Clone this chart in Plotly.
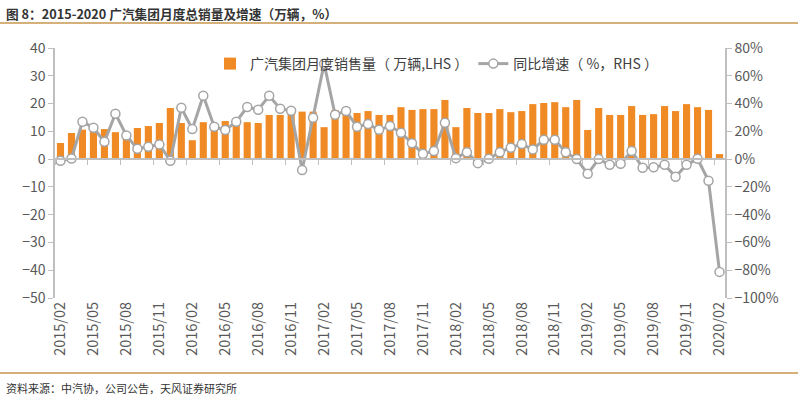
import plotly.graph_objects as go

months = [f"{y}/{m:02d}" for y in range(2015, 2021) for m in range(1, 13)]
categories = months[months.index("2015/02"):months.index("2020/02") + 1]

sales = [5.8, 9.4, 10.6, 10.2, 10.8, 9.7, 9.4, 11.2, 11.9, 13.0, 18.4, 13.0,
         6.8, 13.3, 12.0, 13.7, 12.6, 13.3, 13.0, 15.9, 15.9, 16.7, 17.1, 17.1,
         11.5, 17.7, 17.5, 16.6, 17.3, 15.9, 15.9, 18.7, 17.7, 18.0, 18.0, 21.3,
         11.5, 18.4, 16.6, 16.6, 18.0, 16.9, 17.3, 19.8, 20.2, 20.5, 18.7, 21.3,
         10.5, 18.4, 15.9, 15.9, 19.1, 15.9, 16.2, 19.1, 17.3, 19.8, 18.7, 17.7,
         1.8]

growth = [-1.2, 0.5, 26.9, 22.6, 12.5, 32.7, 17.0, 7.4, 8.9, 10.6, -1.2, 37.0,
          21.6, 45.6, 23.3, 20.9, 26.9, 37.5, 35.6, 45.6, 36.3, 34.8, -7.8, 29.8,
          68.7, 32.0, 34.6, 23.3, 25.2, 21.1, 23.8, 19.0, 11.5, 3.8, 5.8, 26.2,
          0.7, 5.0, -2.9, 0.2, 5.0, 8.2, 10.8, 7.0, 13.9, 13.9, 5.0, 0.0,
          -10.6, 0.0, -4.1, -3.4, 5.8, -6.2, -5.8, -4.1, -12.7, -4.1, 0.2, -15.6,
          -81.2]

tick_labels = categories[::3]

title_text = "图 8：2015-2020 广汽集团月度总销量及增速（万辆，%）"
source_text = "资料来源：中汽协，公司公告，天风证券研究所"
bar_name = "广汽集团月度销售量（ 万辆,LHS ）"
line_name = "同比增速（ %，RHS ）"

FONT = "Noto Sans CJK SC, Microsoft YaHei, sans-serif"
AXIS_GRAY = "#bfbfbf"
TEXT_GRAY = "#595959"

L, R, T, B = 55, 73, 48, 98
W, H = 798, 396
pw = W - L - R
ph = H - T - B

y_min, y_max = -50, 40
zero_pos = (0 - y_min) / (y_max - y_min)

fig = go.Figure()
fig.add_trace(go.Bar(
    x=categories, y=sales, name=bar_name,
    marker=dict(color="#F08A24", line=dict(width=0)),
    yaxis="y", xaxis="x",
))
fig.add_trace(go.Scatter(
    x=categories, y=growth, name=line_name, mode="lines+markers",
    line=dict(color="#A5A5A5", width=3),
    marker=dict(symbol="circle", size=9, color="white",
                line=dict(color="#A5A5A5", width=1.5)),
    yaxis="y2", xaxis="x",
))

fig.update_layout(
    width=W, height=H,
    margin=dict(l=L, r=R, t=T, b=B, autoexpand=False),
    paper_bgcolor="white", plot_bgcolor="white",
    font=dict(family=FONT, color=TEXT_GRAY, size=14),
    bargap=0.35,
    showlegend=True,
    legend=dict(orientation="h", x=(210 - L) / pw, y=1.0, xanchor="left", yanchor="top",
                font=dict(size=14, color="#404040"), bgcolor="rgba(0,0,0,0)",
                itemwidth=30, tracegroupgap=0),
    xaxis=dict(
        type="category", categoryorder="array", categoryarray=categories,
        range=[-0.5, len(categories) - 0.5],
        tickmode="array", tickvals=tick_labels, ticktext=tick_labels,
        tickangle=-90, tickfont=dict(size=14.5, color=TEXT_GRAY),
        showline=False, ticks="", showgrid=False, zeroline=False,
        anchor="y", side="bottom",
    ),
    xaxis2=dict(
        type="category", categoryorder="array", categoryarray=categories,
        matches="x", overlaying="x", anchor="free", position=zero_pos,
        range=[-0.5, len(categories) - 0.5],
        tickmode="array", tickvals=tick_labels, showticklabels=False,
        tickson="boundaries", ticks="outside", ticklen=5, tickcolor=AXIS_GRAY,
        showline=True, linecolor=AXIS_GRAY, linewidth=1.5,
        showgrid=False, zeroline=False,
    ),
    yaxis=dict(
        range=[y_min, y_max], dtick=10, tick0=0,
        showline=True, linecolor=AXIS_GRAY, linewidth=1.5,
        ticks="outside", ticklen=5, tickcolor=AXIS_GRAY,
        showgrid=False, zeroline=False,
        tickfont=dict(size=14, color=TEXT_GRAY),
    ),
    yaxis2=dict(
        range=[-100, 80], dtick=20, tick0=0, ticksuffix="%",
        overlaying="y", side="right", anchor="x",
        showline=True, linecolor=AXIS_GRAY, linewidth=1.5,
        ticks="outside", ticklen=5, tickcolor=AXIS_GRAY,
        showgrid=False, zeroline=False,
        tickfont=dict(size=14, color=TEXT_GRAY),
    ),
)

# invisible trace to activate xaxis2
fig.add_trace(go.Scatter(x=categories[:1], y=[None], xaxis="x2", yaxis="y",
                         showlegend=False, hoverinfo="skip"))

line_color = "#C9964F"
fig.add_shape(type="line", xref="paper", yref="paper",
              x0=-L / pw, x1=(pw + R) / pw, y0=1 + (T - 23) / ph, y1=1 + (T - 23) / ph,
              line=dict(color=line_color, width=1.5))
fig.add_shape(type="line", xref="paper", yref="paper",
              x0=-L / pw, x1=(pw + R) / pw, y0=-(373 - T - ph) / ph, y1=-(373 - T - ph) / ph,
              line=dict(color=line_color, width=1.5))

fig.add_annotation(text="<b>" + title_text + "</b>", xref="paper", yref="paper",
                   x=-(L - 4) / pw, y=1 + (T - 2) / ph, xanchor="left", yanchor="top",
                   showarrow=False, font=dict(size=12.7, color="#333333", family=FONT))
fig.add_annotation(text=source_text, xref="paper", yref="paper",
                   x=-(L - 4) / pw, y=-(378 - T - ph) / ph, xanchor="left", yanchor="top",
                   showarrow=False, font=dict(size=11, color="#333333", family=FONT))

fig.write_html("out.html", config={"displayModeBar": False},
               post_script="document.body.style.margin='0';document.body.style.padding='0';")
